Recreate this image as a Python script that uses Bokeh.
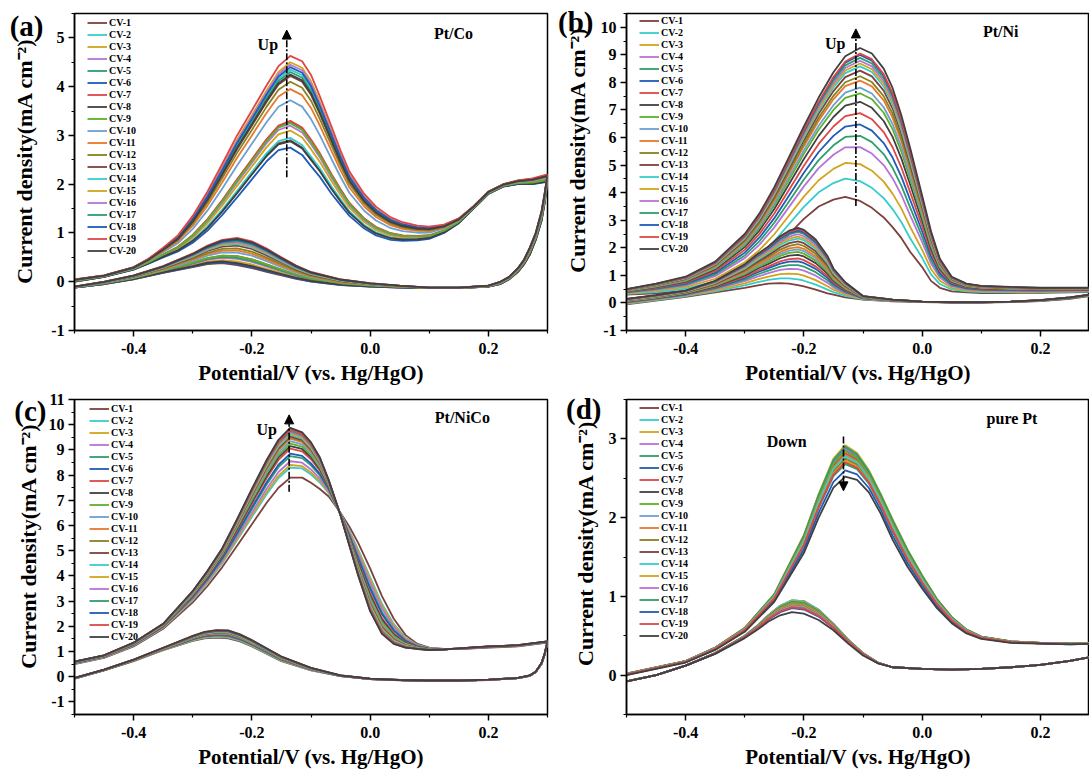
from bokeh.plotting import figure
from bokeh.models import (Range1d, FixedTicker, PrintfTickFormatter, Label, Arrow,
                          NormalHead, Legend, LegendItem, LinearAxis)
from bokeh.layouts import gridplot
from bokeh.embed import file_html
from bokeh.resources import INLINE

FONT = "Liberation Serif"
CV_NAMES = ["CV-%d" % i for i in range(1, 21)]
COLORS = ["#7E3F3F", "#36CCCC", "#D1A41C", "#B774D8", "#2E9E6B", "#1F5BB8",
          "#E04646", "#404040", "#5DB12A", "#6C9FD2", "#E8782A", "#85821F"]

X_TICKS = [-0.4, -0.2, 0.0, 0.2]
X_MINOR = [-0.5, -0.3, -0.1, 0.1, 0.3]
X_TITLE = "Potential/V (vs. Hg/HgO)"
Y_TITLE = "Current density(mA cm\u207b\u00b2)"

# ---------------- (a) Pt/Co ----------------
A_XF = [-0.5, -0.45, -0.4, -0.375, -0.35, -0.325, -0.3, -0.275, -0.25, -0.225, -0.2, -0.175,
        -0.155, -0.135, -0.115, -0.1, -0.085, -0.065, -0.05, -0.035, -0.01, 0.01, 0.035, 0.055,
        0.08, 0.1, 0.125, 0.15, 0.175, 0.2, 0.225, 0.25, 0.275, 0.3]
A_FWD_HI = [0.05, 0.13, 0.3, 0.47, 0.7, 0.95, 1.35, 1.85, 2.42, 3.0, 3.51, 4.03, 4.42, 4.63,
            4.52, 4.24, 3.8, 3.17, 2.69, 2.26, 1.8, 1.54, 1.32, 1.22, 1.15, 1.13, 1.17, 1.3,
            1.55, 1.85, 2.0, 2.08, 2.12, 2.2]
A_FWD_LO = [0.0, 0.1, 0.25, 0.37, 0.5, 0.62, 0.8, 1.05, 1.37, 1.73, 2.1, 2.47, 2.7, 2.75,
            2.6, 2.37, 2.15, 1.8, 1.57, 1.35, 1.09, 0.95, 0.86, 0.84, 0.85, 0.88, 1.0, 1.2,
            1.5, 1.8, 1.95, 2.0, 2.0, 2.05]
A_XB = [0.3, 0.295, 0.29, 0.28, 0.27, 0.26, 0.25, 0.235, 0.22, 0.2, 0.15, 0.1, 0.05, 0.0,
        -0.05, -0.1, -0.125, -0.15, -0.175, -0.2, -0.225, -0.25, -0.275, -0.3, -0.35, -0.4,
        -0.45, -0.5]
A_BWD_HI = [2.2, 1.8, 1.45, 1.0, 0.7, 0.45, 0.28, 0.1, 0.0, -0.08, -0.12, -0.12, -0.08, -0.03,
            0.05, 0.2, 0.33, 0.5, 0.68, 0.83, 0.9, 0.86, 0.74, 0.58, 0.32, 0.13, 0.0, -0.1]
A_BWD_LO = [2.05, 1.6, 1.25, 0.85, 0.55, 0.35, 0.2, 0.05, -0.05, -0.1, -0.13, -0.13, -0.12, -0.1,
            -0.07, 0.0, 0.06, 0.13, 0.2, 0.28, 0.34, 0.38, 0.36, 0.3, 0.18, 0.05, -0.05, -0.12]
A_PEAK_F = [2.9, 2.95, 3.1, 3.2, 3.28, 2.75, 3.3, 2.88, 3.25, 3.72, 3.95, 4.1, 4.22, 4.35,
            4.5, 4.45, 4.3, 4.4, 4.63, 4.25]
A_PEAK_B = [0.38, 0.42, 0.45, 0.5, 0.52, 0.4, 0.55, 0.42, 0.55, 0.62, 0.66, 0.7, 0.75, 0.78,
            0.8, 0.82, 0.84, 0.86, 0.9, 0.88]

# ---------------- (b) Pt/Ni ----------------
B_XF = [-0.5, -0.45, -0.4, -0.35, -0.3, -0.275, -0.25, -0.225, -0.2, -0.175, -0.15, -0.13,
        -0.105, -0.085, -0.065, -0.05, -0.035, -0.02, 0.0, 0.015, 0.03, 0.05, 0.075, 0.1,
        0.15, 0.2, 0.25, 0.3]
B_FWD_HI = [0.5, 0.7, 0.95, 1.5, 2.5, 3.25, 4.2, 5.3, 6.4, 7.45, 8.37, 8.95, 9.25, 9.05, 8.5,
            7.8, 6.8, 5.6, 3.9, 2.6, 1.6, 0.95, 0.7, 0.62, 0.58, 0.55, 0.55, 0.55]
B_FWD_LO = [0.3, 0.35, 0.45, 0.68, 1.15, 1.5, 1.95, 2.5, 3.05, 3.5, 3.75, 3.85, 3.7, 3.45, 3.1,
            2.75, 2.35, 1.85, 1.3, 0.8, 0.55, 0.42, 0.38, 0.36, 0.36, 0.37, 0.38, 0.4]
B_XB = [0.3, 0.25, 0.2, 0.15, 0.1, 0.05, 0.0, -0.05, -0.1, -0.13, -0.15, -0.16, -0.18, -0.2,
        -0.21, -0.225, -0.24, -0.26, -0.28, -0.3, -0.35, -0.4, -0.45, -0.5]
B_BWD_HI = [0.35, 0.2, 0.1, 0.05, 0.03, 0.03, 0.05, 0.12, 0.25, 0.75, 1.25, 1.7, 2.3, 2.65,
            2.72, 2.62, 2.42, 2.05, 1.75, 1.4, 0.8, 0.45, 0.28, 0.15]
B_BWD_LO = [0.3, 0.15, 0.07, 0.03, 0.02, 0.02, 0.03, 0.06, 0.12, 0.2, 0.3, 0.35, 0.48, 0.6,
            0.65, 0.7, 0.72, 0.7, 0.63, 0.55, 0.38, 0.22, 0.08, -0.05]
B_PEAK_F = [3.85, 4.55, 5.15, 5.75, 6.15, 6.55, 6.95, 7.35, 7.65, 7.85, 8.1, 8.25, 8.45, 8.6,
            8.7, 8.8, 8.9, 9.0, 9.05, 9.25]
B_PEAK_B = [0.72, 0.92, 1.1, 1.28, 1.42, 1.55, 1.65, 1.78, 1.88, 1.97, 2.05, 2.15, 2.25, 2.35,
            2.42, 2.5, 2.58, 2.63, 2.68, 2.72]

# ---------------- (c) Pt/NiCo ----------------
C_XF = [-0.5, -0.45, -0.4, -0.35, -0.3, -0.275, -0.25, -0.225, -0.2, -0.175, -0.155, -0.135,
        -0.115, -0.1, -0.085, -0.07, -0.05, -0.035, -0.02, 0.0, 0.02, 0.04, 0.06, 0.08, 0.1,
        0.125, 0.15, 0.2, 0.25, 0.3]
C_FWD_HI = [0.6, 0.85, 1.35, 2.1, 3.4, 4.2, 5.1, 6.25, 7.45, 8.6, 9.4, 9.88, 9.7, 9.3, 8.7,
            7.8, 6.4, 5.2, 4.0, 2.6, 1.7, 1.3, 1.15, 1.1, 1.06, 1.08, 1.12, 1.2, 1.25, 1.4]
C_FWD_LO = [0.5, 0.75, 1.2, 1.9, 2.95, 3.6, 4.35, 5.2, 6.05, 6.9, 7.5, 7.9, 7.9, 7.7, 7.45,
            7.15, 6.5, 5.95, 5.3, 4.3, 3.2, 2.3, 1.65, 1.3, 1.15, 1.1, 1.1, 1.15, 1.2, 1.35]
C_XB = [0.3, 0.295, 0.29, 0.28, 0.27, 0.25, 0.2, 0.15, 0.1, 0.05, 0.0, -0.05, -0.1, -0.15,
        -0.2, -0.22, -0.24, -0.26, -0.28, -0.3, -0.35, -0.4, -0.45, -0.5]
C_BWD_HI = [1.4, 0.9, 0.55, 0.2, 0.05, -0.05, -0.12, -0.15, -0.15, -0.13, -0.08, 0.05, 0.35,
            0.8, 1.45, 1.68, 1.84, 1.85, 1.78, 1.62, 1.15, 0.68, 0.28, -0.05]
C_BWD_LO = [1.35, 0.85, 0.5, 0.18, 0.03, -0.06, -0.13, -0.16, -0.16, -0.14, -0.1, 0.02, 0.25,
            0.62, 1.2, 1.4, 1.52, 1.55, 1.52, 1.42, 1.05, 0.62, 0.25, -0.08]
C_PEAK_F = [7.9, 8.3, 8.4, 8.55, 8.75, 8.85, 9.05, 9.15, 9.25, 9.35, 9.45, 9.5, 9.55, 9.6,
            9.65, 9.7, 9.75, 9.85, 9.8, 9.88]
C_PEAK_B = [1.55, 1.58, 1.6, 1.62, 1.64, 1.66, 1.68, 1.7, 1.71, 1.72, 1.74, 1.75, 1.76, 1.77,
            1.78, 1.8, 1.81, 1.82, 1.84, 1.85]

# ---------------- (d) pure Pt ----------------
D_XF = [-0.5, -0.45, -0.4, -0.35, -0.3, -0.25, -0.2, -0.175, -0.15, -0.13, -0.11, -0.09, -0.07,
        -0.05, -0.025, 0.0, 0.025, 0.05, 0.075, 0.1, 0.15, 0.2, 0.25, 0.3]
D_FWD_HI = [0.02, 0.1, 0.18, 0.35, 0.6, 1.03, 1.78, 2.3, 2.75, 2.92, 2.82, 2.6, 2.3, 1.98, 1.6,
            1.27, 0.97, 0.74, 0.58, 0.49, 0.43, 0.41, 0.4, 0.4]
D_FWD_LO = [0.0, 0.08, 0.16, 0.32, 0.55, 0.93, 1.55, 2.0, 2.38, 2.52, 2.48, 2.32, 2.05, 1.72,
            1.38, 1.1, 0.85, 0.66, 0.53, 0.46, 0.41, 0.4, 0.39, 0.4]
D_XB = [0.3, 0.25, 0.2, 0.15, 0.1, 0.05, 0.0, -0.05, -0.075, -0.1, -0.125, -0.15, -0.175, -0.2,
        -0.22, -0.24, -0.26, -0.28, -0.3, -0.35, -0.4, -0.45, -0.5]
D_BWD_HI = [0.25, 0.18, 0.13, 0.1, 0.08, 0.07, 0.08, 0.1, 0.16, 0.28, 0.45, 0.65, 0.83, 0.94,
            0.95, 0.88, 0.76, 0.62, 0.5, 0.28, 0.12, 0.0, -0.08]
D_BWD_LO = [0.25, 0.18, 0.13, 0.1, 0.08, 0.07, 0.08, 0.1, 0.15, 0.25, 0.4, 0.57, 0.7, 0.78,
            0.8, 0.76, 0.68, 0.57, 0.47, 0.27, 0.12, 0.0, -0.08]
D_PEAK_F = [2.88, 2.9, 2.92, 2.87, 2.9, 2.85, 2.82, 2.8, 2.85, 2.78, 2.8, 2.75, 2.72, 2.78,
            2.72, 2.7, 2.68, 2.6, 2.7, 2.52]
D_PEAK_B = [0.95, 0.95, 0.94, 0.93, 0.93, 0.92, 0.92, 0.9, 0.92, 0.9, 0.9, 0.88, 0.88, 0.88,
            0.87, 0.87, 0.86, 0.85, 0.86, 0.8]

# ---------------- layout (page px; the Bokeh page has no body margin) ----------------
COLS = [dict(cx0=0, cx1=552, fl=74, fr=547), dict(cx0=552, cx1=1089, fl=626, fr=1089)]
ROWS = [dict(cy0=0, cy1=390, ft=13, fb=330, xt_standoff=4),
        dict(cy0=390, cy1=774, ft=399, fb=714, xt_standoff=4)]
PX_PER_V = 591.25


def blend(lo, hi, pk, i):
    w = (pk[i] - min(pk)) / (max(pk) - min(pk))
    return [a + w * (b - a) for a, b in zip(lo, hi)]


def style_axis(ax, size="16px"):
    ax.axis_line_width = 1.5
    ax.axis_line_color = "black"
    ax.major_tick_line_width = 1.5
    ax.major_tick_line_color = "black"
    ax.minor_tick_line_width = 1.2
    ax.minor_tick_line_color = "black"
    ax.major_tick_out = 6
    ax.major_tick_in = 0
    ax.minor_tick_out = 3
    ax.minor_tick_in = 0
    ax.major_label_text_font = FONT
    ax.major_label_text_font_style = "bold"
    ax.major_label_text_font_size = size
    ax.major_label_text_color = "black"
    ax.major_label_standoff = 4
    ax.axis_label_text_font = FONT
    ax.axis_label_text_font_style = "bold"
    ax.axis_label_text_font_size = "21px"
    ax.axis_label_text_color = "black"


def make_panel(col, row, ylim, yticks, yminor, letter, name, sweep, legend_xy,
               arrow, arrow_text, name_xy, ytitle_standoff, ytitle_shift):
    c, r = COLS[col], ROWS[row]
    fw = c["fr"] - c["fl"]
    x0 = -0.5
    x1 = x0 + fw / PX_PER_V
    y0, y1 = ylim
    p = figure(width=c["cx1"] - c["cx0"], height=r["cy1"] - r["cy0"],
               x_range=Range1d(x0, x1), y_range=Range1d(y0, y1),
               output_backend="svg", toolbar_location=None,
               min_border_left=c["fl"] - c["cx0"], min_border_right=c["cx1"] - c["fr"],
               min_border_top=r["ft"] - r["cy0"], min_border_bottom=r["cy1"] - r["fb"])
    p.background_fill_color = "white"
    p.border_fill_color = "white"
    p.outline_line_color = "black"
    p.outline_line_width = 1.5
    p.grid.visible = False

    # curves
    xf, lof, hif, pkf, xb, lob, hib, pkb = sweep
    items = []
    for i in range(20):
        ys = blend(lof, hif, pkf, i) + blend(lob, hib, pkb, i)
        xs = xf + xb
        rr = p.line(xs, ys, line_color=COLORS[i % 12], line_width=1.8)
        items.append(LegendItem(label=CV_NAMES[i], renderers=[rr]))

    leg = Legend(items=items, location=legend_xy, orientation="vertical",
                 glyph_width=20, glyph_height=11, label_height=11, spacing=1,
                 padding=0, margin=0, label_standoff=2,
                 label_text_font=FONT, label_text_font_style="bold",
                 label_text_font_size="10px", label_text_color="black",
                 background_fill_alpha=0, border_line_alpha=0)
    p.add_layout(leg)

    # main axes
    xa, ya = p.xaxis[0], p.yaxis[0]
    xa.ticker = FixedTicker(ticks=X_TICKS, minor_ticks=X_MINOR)
    xa.formatter = PrintfTickFormatter(format="%.1f")
    ya.ticker = FixedTicker(ticks=yticks, minor_ticks=yminor)
    ya.formatter = PrintfTickFormatter(format="%d")
    style_axis(xa)
    style_axis(ya)
    xa.major_label_standoff = 6
    xa.axis_label = X_TITLE
    xa.axis_label_standoff = r["xt_standoff"]
    ya.axis_label = "\u00a0" * ytitle_shift + Y_TITLE
    ya.axis_label_standoff = ytitle_standoff
    ya.axis_label_text_font_size = "22px"

    # panel letter as the single tick label of a bare outer axis
    ltxt, ly, lstand = letter
    la = LinearAxis(ticker=FixedTicker(ticks=[ly], minor_ticks=[]),
                    formatter=PrintfTickFormatter(format=ltxt))
    la.axis_line_color = None
    la.major_tick_line_color = None
    la.minor_tick_line_color = None
    la.major_tick_out = 0
    la.major_tick_in = 0
    la.minor_tick_out = 0
    la.minor_tick_in = 0
    la.major_label_standoff = lstand
    la.major_label_text_font = FONT
    la.major_label_text_font_style = "bold"
    la.major_label_text_font_size = "29px"
    la.major_label_text_color = "black"
    p.add_layout(la, "left")

    # material name
    p.add_layout(Label(x=name_xy[0], y=name_xy[1], text=name, text_align="center",
                       text_baseline="middle", text_font=FONT, text_font_style="bold",
                       text_font_size="16px", text_color="black"))
    # trend arrow
    ax_, ys_, ye_ = arrow
    p.add_layout(Arrow(end=NormalHead(size=9, fill_color="black", line_color="black",
                                      line_width=1),
                       x_start=ax_, y_start=ys_, x_end=ax_, y_end=ye_,
                       line_width=1.6, line_color="black", line_dash="7 2 2 2"))
    t, tx, ty = arrow_text
    p.add_layout(Label(x=tx, y=ty, text=t, text_align="center", text_baseline="middle",
                       text_font=FONT, text_font_style="bold", text_font_size="16px",
                       text_color="black"))
    return p


pa = make_panel(0, 0, (-1, 5.5), [-1, 0, 1, 2, 3, 4, 5], [-0.5, 0.5, 1.5, 2.5, 3.5, 4.5, 5.5],
                ("(a)", 5.24, -34), "Pt/Co",
                (A_XF, A_FWD_LO, A_FWD_HI, A_PEAK_F, A_XB, A_BWD_LO, A_BWD_HI, A_PEAK_B),
                (13, 74), (-0.141, 2.14, 5.16), ("Up", -0.173, 4.87), (0.141, 5.1), 11, 4)
pb = make_panel(1, 0, (-1, 10.5), list(range(-1, 11)), [v + 0.5 for v in range(-1, 11)],
                ("(b)", 10.2, -32), "Pt/Ni",
                (B_XF, B_FWD_LO, B_FWD_HI, B_PEAK_F, B_XB, B_BWD_LO, B_BWD_HI, B_PEAK_B),
                (13, 76), (-0.112, 3.52, 9.94), ("Up", -0.147, 9.4), (0.133, 9.84), 8, 8)
pc = make_panel(0, 1, (-1.5, 11), list(range(-1, 12)), [v + 0.5 for v in range(-2, 11)],
                ("(c)", 10.9, -34), "Pt/NiCo",
                (C_XF, C_FWD_LO, C_FWD_HI, C_PEAK_F, C_XB, C_BWD_LO, C_BWD_HI, C_PEAK_B),
                (15, 72), (-0.137, 7.34, 10.39), ("Up", -0.175, 9.79), (0.156, 10.27), 5, 4)
pd_ = make_panel(1, 1, (-0.5, 3.5), [0, 1, 2, 3], [-0.5, 0.5, 1.5, 2.5, 3.5],
                 ("(d)", 3.38, -32), "pure Pt",
                 (D_XF, D_FWD_LO, D_FWD_HI, D_PEAK_F, D_XB, D_BWD_LO, D_BWD_HI, D_PEAK_B),
                 (13, 73), (-0.133, 3.03, 2.34), ("Down", -0.229, 2.97), (0.152, 3.26), 8, 5)

grid = gridplot([[pa, pb], [pc, pd_]], toolbar_location=None)
open("out.html", "w").write(file_html(grid, INLINE))
